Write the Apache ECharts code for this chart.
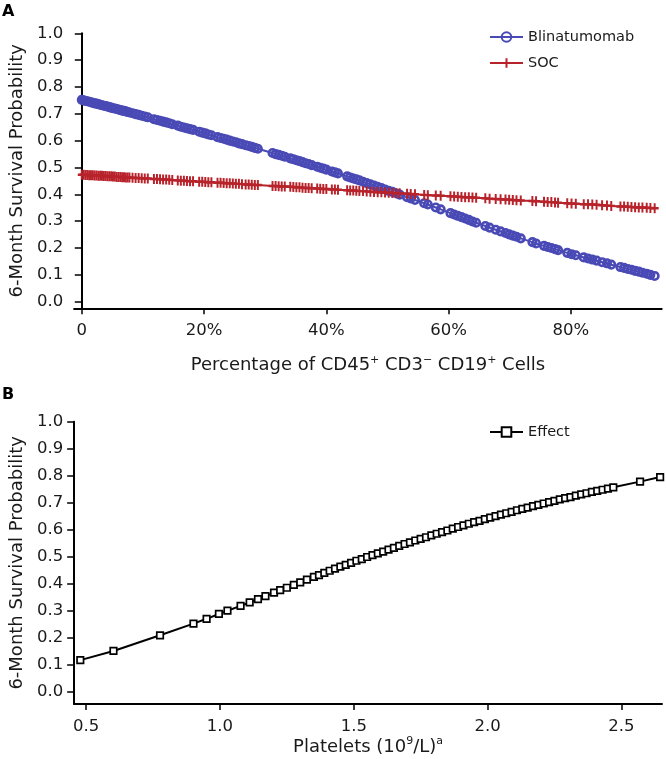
<!DOCTYPE html>
<html>
<head>
<meta charset="utf-8">
<script src="https://cdn.jsdelivr.net/npm/echarts@6/dist/echarts.min.js"></script>
<style>
html,body{margin:0;padding:0;background:#fff;}
#chart{width:666px;height:759px;}
</style>
</head>
<body>
<div id="chart"></div>
<script>
// ---- Panel A data (x in % of CD45+ CD3- CD19+ cells) ----
const pctX = [0, 0.3, 0.6, 0.9, 1.2, 1.5, 1.8, 2.1, 2.4, 2.7, 3.0, 3.3, 3.6, 3.9, 4.2, 4.5, 4.8, 5.1, 5.4, 5.7, 6.0, 6.3, 6.6, 6.9, 7.2, 7.5, 7.8,
  8.3, 8.8, 9.3, 9.8, 10.3, 10.8,
  11.8, 12.3, 12.8, 13.3, 13.8, 14.3, 14.8,
  15.7, 16.2, 16.7, 17.2, 17.7, 18.2,
  19.2, 19.7, 20.2, 20.7, 21.2,
  22.2, 22.7, 23.2, 23.7, 24.2, 24.7, 25.2, 25.7, 26.2,
  26.8, 27.3, 27.8, 28.3, 28.8,
  31.2, 31.7, 32.2, 32.7, 33.2,
  34.1, 34.6, 35.1, 35.6, 36.1, 36.6, 37.1, 37.6,
  38.5, 39.0, 39.5, 40.0,
  40.9, 41.4, 41.9,
  43.4, 43.9, 44.4, 44.9, 45.4, 46.0, 46.6, 47.2,
  47.8, 48.4, 49.0, 49.6, 50.2, 50.8, 51.4, 52.0,
  53.2, 53.8, 54.5,
  56.0, 56.6,
  57.9, 58.7,
  60.3, 60.9, 61.5, 62.1, 62.7, 63.3, 63.9, 64.5,
  66.0, 66.7,
  67.7, 68.5,
  69.3, 69.9, 70.5, 71.1, 71.8,
  73.7, 74.3,
  75.6, 76.2, 76.8, 77.4, 77.9,
  79.4, 80.1, 80.8,
  82.1, 82.8, 83.5, 84.2,
  85.1, 85.9, 86.6,
  88.1, 88.7, 89.3, 89.9, 90.5, 91.1, 91.7,
  92.4, 93.0, 93.7];
const blinaY = [0.752, 0.750, 0.748, 0.747, 0.745, 0.743, 0.741, 0.739, 0.738, 0.736, 0.734, 0.732, 0.730, 0.729, 0.727, 0.725, 0.723, 0.721, 0.720, 0.718, 0.716, 0.714, 0.712, 0.711, 0.709, 0.707, 0.705,
  0.702, 0.699, 0.696, 0.693, 0.690, 0.687,
  0.680, 0.677, 0.674, 0.671, 0.668, 0.665, 0.661,
  0.656, 0.652, 0.649, 0.646, 0.643, 0.640,
  0.633, 0.630, 0.627, 0.623, 0.620,
  0.613, 0.610, 0.607, 0.604, 0.600, 0.597, 0.594, 0.590, 0.587,
  0.583, 0.580, 0.577, 0.573, 0.570,
  0.554, 0.550, 0.547, 0.544, 0.540,
  0.534, 0.531, 0.527, 0.524, 0.520, 0.516, 0.513, 0.509,
  0.503, 0.499, 0.496, 0.492,
  0.485, 0.482, 0.478,
  0.467, 0.463, 0.459, 0.456, 0.452, 0.447, 0.442, 0.437,
  0.433, 0.428, 0.423, 0.418, 0.413, 0.409, 0.404, 0.399,
  0.389, 0.385, 0.379,
  0.367, 0.362,
  0.351, 0.344,
  0.330, 0.325, 0.320, 0.315, 0.310, 0.305, 0.299, 0.294,
  0.282, 0.276,
  0.268, 0.262,
  0.256, 0.251, 0.246, 0.242, 0.236,
  0.222, 0.217,
  0.208, 0.204, 0.200, 0.196, 0.192,
  0.182, 0.177, 0.173,
  0.165, 0.161, 0.157, 0.153,
  0.147, 0.143, 0.138,
  0.129, 0.126, 0.122, 0.119, 0.115, 0.112, 0.108,
  0.104, 0.100, 0.096];
const socY = [0.473, 0.473, 0.472, 0.472, 0.471, 0.471, 0.471, 0.470, 0.470, 0.469, 0.469, 0.469, 0.468, 0.468, 0.467, 0.467, 0.467, 0.466, 0.466, 0.465, 0.465, 0.465, 0.464, 0.464, 0.463, 0.463, 0.463,
  0.462, 0.461, 0.461, 0.460, 0.459, 0.459,
  0.457, 0.457, 0.456, 0.455, 0.455, 0.454, 0.453,
  0.452, 0.451, 0.451, 0.450, 0.449, 0.449,
  0.447, 0.447, 0.446, 0.445, 0.445,
  0.443, 0.443, 0.442, 0.441, 0.441, 0.440, 0.439, 0.439, 0.438,
  0.437, 0.437, 0.436, 0.435, 0.435,
  0.431, 0.431, 0.430, 0.429, 0.429,
  0.428, 0.427, 0.426, 0.426, 0.425, 0.424, 0.424, 0.423,
  0.422, 0.421, 0.420, 0.420,
  0.418, 0.418, 0.417,
  0.415, 0.414, 0.414, 0.413, 0.412, 0.412, 0.411, 0.410,
  0.409, 0.408, 0.408, 0.407, 0.406, 0.405, 0.404, 0.404,
  0.402, 0.401, 0.400,
  0.398, 0.397,
  0.396, 0.395,
  0.393, 0.392, 0.391, 0.390, 0.389, 0.389, 0.388, 0.387,
  0.385, 0.384,
  0.383, 0.382,
  0.381, 0.380, 0.379, 0.378, 0.377,
  0.375, 0.374,
  0.372, 0.371, 0.371, 0.370, 0.369,
  0.367, 0.366, 0.365,
  0.363, 0.363, 0.362, 0.361,
  0.359, 0.358, 0.357,
  0.355, 0.355, 0.354, 0.353, 0.352, 0.351, 0.351,
  0.350, 0.349, 0.348];

// ---- Panel B data (platelets) ----
const plateletX = [0.478, 0.602, 0.776, 0.901, 0.950, 0.996, 1.028, 1.077, 1.111, 1.142, 1.17, 1.202, 1.225, 1.25, 1.276, 1.30, 1.325, 1.351,
  1.37, 1.39, 1.41, 1.43, 1.45, 1.47, 1.49, 1.51, 1.53, 1.55, 1.57, 1.59, 1.61, 1.63, 1.65, 1.67, 1.69, 1.71, 1.73, 1.75, 1.77, 1.79,
  1.81, 1.83, 1.85, 1.87, 1.89, 1.91, 1.93, 1.95, 1.97, 1.99, 2.01, 2.03, 2.05, 2.07, 2.09, 2.11, 2.13, 2.15, 2.17, 2.19,
  2.21, 2.23, 2.25, 2.27, 2.29, 2.31, 2.33, 2.35, 2.37, 2.39, 2.41, 2.43, 2.45, 2.47, 2.57, 2.645];
const effectY = [0.117, 0.151, 0.209, 0.252, 0.270, 0.288, 0.300, 0.318, 0.331, 0.343, 0.354, 0.367, 0.376, 0.385, 0.396, 0.405, 0.415, 0.425,
  0.432, 0.440, 0.448, 0.456, 0.463, 0.470, 0.477, 0.485, 0.491, 0.499, 0.506, 0.512, 0.519, 0.526, 0.533, 0.540, 0.547, 0.553, 0.560, 0.566, 0.572, 0.579,
  0.585, 0.591, 0.597, 0.604, 0.610, 0.616, 0.622, 0.628, 0.633, 0.639, 0.645, 0.650, 0.656, 0.661, 0.666, 0.672, 0.677, 0.682, 0.687, 0.692,
  0.697, 0.702, 0.707, 0.712, 0.717, 0.721, 0.726, 0.731, 0.735, 0.740, 0.744, 0.748, 0.752, 0.757, 0.778, 0.795];

// ---- ticks ----
const yTicks = [0, 0.1, 0.2, 0.3, 0.4, 0.5, 0.6, 0.7, 0.8, 0.9, 1.0];
const pctTicks = [0, 20, 40, 60, 80];
const plateletTicks = [0.5, 1.0, 1.5, 2.0, 2.5];

const FONT = 'DejaVu Sans';
const TXT = '#1a1a1a';
const BLUE = '#4a4ab6';
const RED = '#b8232b';

function yAxisCfg(gridIndex, min) {
  return {
    type: 'value', gridIndex: gridIndex, min: min, max: 1.0,
    name: '6-Month Survival Probability', nameLocation: 'middle', nameGap: 45,
    nameTextStyle: {fontFamily: FONT, fontSize: 18, color: TXT},
    axisLine: {show: true, lineStyle: {color: '#000', width: 2}},
    axisTick: {show: true, length: 7, customValues: yTicks, lineStyle: {color: '#000', width: 1.5}},
    axisLabel: {customValues: yTicks, margin: 11, fontFamily: FONT, fontSize: 16.5, color: TXT,
      formatter: v => v.toFixed(1)},
    splitLine: {show: false}
  };
}

const option = {
  animation: false,
  backgroundColor: '#fff',
  title: [
    {text: 'A', left: 2, top: 4, padding: 0, textStyle: {fontFamily: FONT, fontSize: 16, fontWeight: 'bold', color: '#000'}},
    {text: 'B', left: 2, top: 387, padding: 0, textStyle: {fontFamily: FONT, fontSize: 16, fontWeight: 'bold', color: '#000'}}
  ],
  legend: [
    {data: ['Blinatumomab', 'SOC'], orient: 'vertical', left: 489, top: 29.5, padding: 0,
     itemWidth: 33, itemHeight: 12, itemGap: 11,
     textStyle: {fontFamily: FONT, fontSize: 14.5, color: TXT}},
    {data: ['Effect'], orient: 'vertical', left: 489, top: 424.5, padding: 0,
     itemWidth: 33, itemHeight: 12,
     textStyle: {fontFamily: FONT, fontSize: 14.5, color: TXT}}
  ],
  grid: [
    {left: 73.3, top: 33.3, width: 588.4, height: 275},
    {left: 73.3, top: 421.7, width: 588.7, height: 287.3}
  ],
  xAxis: [
    {type: 'value', gridIndex: 0, min: -1.25, max: 94.85,
     name: 'Percentage of CD45{sup|+} CD3{sup|\u2212} CD19{sup|+} Cells', nameLocation: 'middle', nameGap: 46,
     nameTextStyle: {fontFamily: FONT, fontSize: 18, color: TXT, lineHeight: 22,
       rich: {sup: {fontFamily: FONT, fontSize: 11, color: TXT, verticalAlign: 'top', lineHeight: 11}}},
     axisLine: {show: true, onZero: false, lineStyle: {color: '#000', width: 2}},
     axisTick: {show: true, length: 6, customValues: pctTicks, lineStyle: {color: '#000', width: 1.5}},
     axisLabel: {customValues: pctTicks, margin: 14, fontFamily: FONT, fontSize: 16.5, color: TXT,
       formatter: v => (v === 0 ? '0' : v + '%')},
     splitLine: {show: false}},
    {type: 'value', gridIndex: 1, min: 0.455, max: 2.652,
     name: 'Platelets (10{sup|9}/L){sup|a}', nameLocation: 'middle', nameGap: 32,
     nameTextStyle: {fontFamily: FONT, fontSize: 18, color: TXT, lineHeight: 22,
       rich: {sup: {fontFamily: FONT, fontSize: 11, color: TXT, verticalAlign: 'top', lineHeight: 11}}},
     axisLine: {show: true, onZero: false, lineStyle: {color: '#000', width: 2}},
     axisTick: {show: true, length: 6, customValues: plateletTicks, lineStyle: {color: '#000', width: 1.5}},
     axisLabel: {customValues: plateletTicks, margin: 14, fontFamily: FONT, fontSize: 16.5, color: TXT,
       formatter: v => v.toFixed(1)},
     splitLine: {show: false}}
  ],
  yAxis: [yAxisCfg(0, -0.0246), yAxisCfg(1, -0.0455)],
  series: [
    {name: 'Blinatumomab', type: 'line', xAxisIndex: 0, yAxisIndex: 0,
     data: pctX.map((x, i) => [x, blinaY[i]]),
     symbol: 'circle', symbolSize: 7.5, showAllSymbol: true,
     lineStyle: {color: BLUE, width: 2},
     itemStyle: {color: 'rgba(255,255,255,0)', borderColor: BLUE, borderWidth: 2.6}},
    {name: 'SOC', type: 'line', xAxisIndex: 0, yAxisIndex: 0,
     data: pctX.map((x, i) => [x, socY[i]]),
     symbol: 'path://M0,5L10,5M5,0L5,10', symbolSize: [8, 10], showAllSymbol: true,
     lineStyle: {color: RED, width: 2},
     itemStyle: {color: 'rgba(255,255,255,0)', borderColor: RED, borderWidth: 2.2}},
    {name: 'Effect', type: 'line', xAxisIndex: 1, yAxisIndex: 1,
     data: plateletX.map((x, i) => [x, effectY[i]]),
     symbol: 'rect', symbolSize: 6.5, showAllSymbol: true,
     lineStyle: {color: '#000', width: 2},
     itemStyle: {color: '#fff', borderColor: '#000', borderWidth: 1.7}}
  ]
};

const chart = echarts.init(document.getElementById('chart'), null, {renderer: 'canvas'});
chart.setOption(option);
</script>
</body>
</html>
